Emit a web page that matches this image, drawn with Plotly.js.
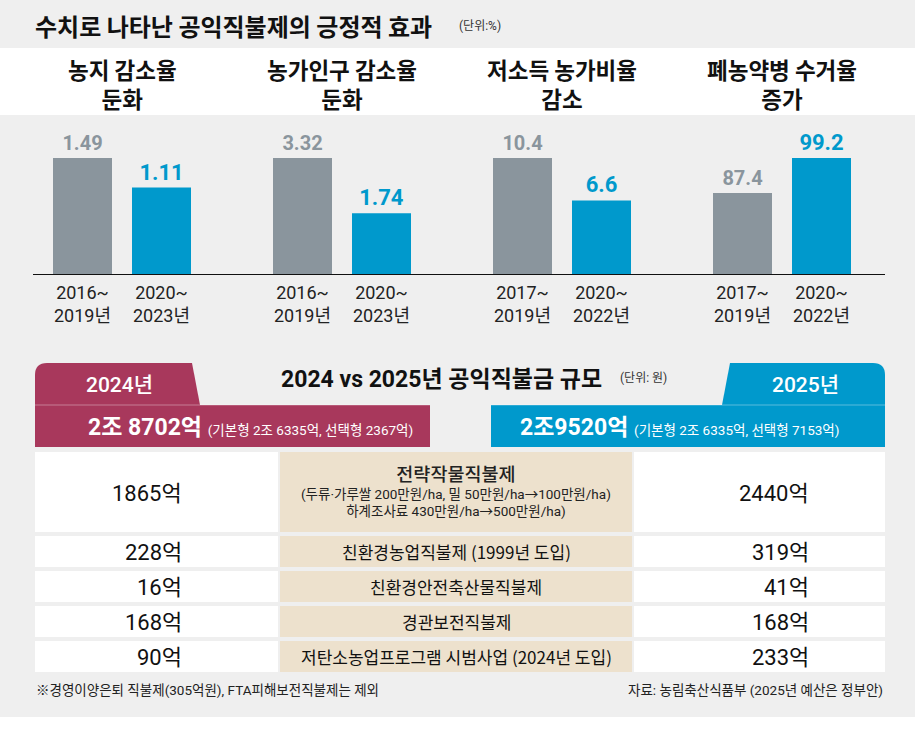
<!DOCTYPE html>
<html><head><meta charset="utf-8">
<script src="https://cdn.plot.ly/plotly-3.0.1.min.js"></script>
<style>html,body{margin:0;padding:0;background:#fff}#chart{width:915px;height:733px}</style>
</head><body><div id="chart"></div>
<script>
// ---------------- data ----------------
const chartTitle = '수치로 나타난 공익직불제의 긍정적 효과';
const chartUnit = '(단위:%)';
const groupTitles = ['농지 감소율<br>둔화', '농가인구 감소율<br>둔화', '저소득 농가비율<br>감소', '폐농약병 수거율<br>증가'];
const periodLabels = [
  ['2016~<br>2019년', '2020~<br>2023년'],
  ['2016~<br>2019년', '2020~<br>2023년'],
  ['2017~<br>2019년', '2020~<br>2022년'],
  ['2017~<br>2019년', '2020~<br>2022년']
];
const beforeValues = [1.49, 3.32, 10.4, 87.4];
const afterValues = [1.11, 1.74, 6.6, 99.2];

const tableTitle = '2024 vs 2025년 공익직불금 규모';
const tableUnit = '(단위: 원)';
const yearLabels = ['2024년', '2025년'];
const totalAmounts = ['2조 8702억', '2조9520억'];
const totalBreakdowns = ['(기본형 2조 6335억, 선택형 2367억)', '(기본형 2조 6335억, 선택형 7153억)'];
const programs = ['전략작물직불제', '친환경농업직불제 (1999년 도입)', '친환경안전축산물직불제', '경관보전직불제', '저탄소농업프로그램 시범사업 (2024년 도입)'];
const programNotes = [['(두류·가루쌀 200만원/ha, 밀 50만원/ha→100만원/ha)', '하계조사료 430만원/ha→500만원/ha)'], [], [], [], []];
const budget2024 = [1865, 228, 16, 168, 90];
const budget2025 = [2440, 319, 41, 168, 233];
const footNote = '※경영이양은퇴 직불제(305억원), FTA피해보전직불제는 제외';
const sourceNote = '자료: 농림축산식품부 (2025년 예산은 정부안)';

// ---------------- layout helpers ----------------
const W = 915, H = 733;
const fx = x => x / W, fy = y => 1 - y / H;
const GREY = '#8a959d', BLUE = '#0099cc', RED = '#a8385c', BEIGE = '#ede1cd', BG = '#efefef';
const NUM = 'Roboto, "Noto Sans CJK KR", sans-serif';
const KR = '"Noto Sans CJK KR", sans-serif';

const traces = [];
const shapes = [];
const annotations = [];
const layout = {
  width: W, height: H, margin: {l: 0, r: 0, t: 0, b: 0, pad: 0},
  paper_bgcolor: BG, plot_bgcolor: 'rgba(0,0,0,0)', showlegend: false,
  bargap: 20 / 79, font: {family: KR, color: '#111'},
  shapes: shapes, annotations: annotations
};
const note = (x, y, text, font, xanchor) => annotations.push({xref: 'paper', yref: 'paper', x: fx(x), y: fy(y),
  xanchor: xanchor || 'center', yanchor: 'middle', showarrow: false, text: text, font: font});

// background bands
shapes.push({type: 'rect', xref: 'paper', yref: 'paper', x0: 0, x1: 1, y0: fy(115), y1: fy(48), fillcolor: '#ffffff', line: {width: 0}, layer: 'below'});
shapes.push({type: 'rect', xref: 'paper', yref: 'paper', x0: 0, x1: 1, y0: 0, y1: fy(717), fillcolor: '#ffffff', line: {width: 0}, layer: 'below'});

note(33, 25, chartTitle, {family: KR, size: 24, weight: 700, color: '#111'}, 'left');
note(457, 26, chartUnit, {family: NUM, size: 12, color: '#333'}, 'left');

// ---------------- bar panels ----------------
const axisFloor = [0, 0, 0, 60]; // last panel uses a truncated axis, as in the original
const baseY = 274, topY = 158, domTop = 128;
beforeValues.forEach((b, i) => {
  const a = afterValues[i];
  const vmax = Math.max(a, b);
  const floor = axisFloor[i];
  const ymax = floor + (vmax - floor) * (baseY - domTop) / (baseY - topY);
  const c1 = 82.5 + 220 * i;
  const sfx = i === 0 ? '' : String(i + 1);
  traces.push({
    type: 'bar', x: periodLabels[i], y: [b, a], xaxis: 'x' + sfx, yaxis: 'y' + sfx,
    marker: {color: [GREY, BLUE], line: {width: 0}},
    text: [String(b), String(a)], textposition: 'outside', cliponaxis: false, constraintext: 'none',
    textfont: {family: NUM, size: [20, 22], color: [GREY, BLUE], weight: 700},
    hoverinfo: 'skip'
  });
  layout['xaxis' + sfx] = {
    domain: [fx(c1 - 39.5), fx(c1 + 118.5)], type: 'category', showgrid: false, zeroline: false, showline: false,
    ticks: '', ticklabelstandoff: 6, tickfont: {family: NUM, size: 18, color: '#222'}, anchor: 'y' + sfx, fixedrange: true
  };
  layout['yaxis' + sfx] = {domain: [fy(baseY), fy(domTop)], range: [floor, ymax], visible: false, anchor: 'x' + sfx, fixedrange: true};
  note(c1 + 39.5, 83, groupTitles[i], {family: KR, size: 22.5, weight: 700, color: '#111'});
});
shapes.push({type: 'line', xref: 'paper', yref: 'paper', x0: fx(33), x1: fx(885), y0: fy(274.5), y1: fy(274.5), line: {color: '#111', width: 1}});

// ---------------- table header ----------------
const P = (pts) => pts.map((p, k) => (p[0] === 'Q' ? 'Q' + fx(p[1]) + ',' + fy(p[2]) + ' ' + fx(p[3]) + ',' + fy(p[4]) : (k === 0 ? 'M' : 'L') + fx(p[0]) + ',' + fy(p[1]))).join(' ') + ' Z';
shapes.push({type: 'path', xref: 'paper', yref: 'paper', fillcolor: RED, line: {width: 0},
  path: P([[35, 405], [35, 375], ['Q', 35, 363, 47, 363], [192, 363], [200, 405]])});
shapes.push({type: 'rect', xref: 'paper', yref: 'paper', x0: fx(35), x1: fx(430), y0: fy(447), y1: fy(405), fillcolor: RED, line: {width: 0}});
shapes.push({type: 'path', xref: 'paper', yref: 'paper', fillcolor: BLUE, line: {width: 0},
  path: P([[722, 405], [730, 363], [873, 363], ['Q', 885, 363, 885, 375], [885, 405]])});
shapes.push({type: 'rect', xref: 'paper', yref: 'paper', x0: fx(491), x1: fx(885), y0: fy(447), y1: fy(405), fillcolor: BLUE, line: {width: 0}});
shapes.push({type: 'line', xref: 'paper', yref: 'paper', x0: fx(35), x1: fx(430), y0: fy(405), y1: fy(405), line: {color: 'rgba(255,255,255,0.35)', width: 1}});
shapes.push({type: 'line', xref: 'paper', yref: 'paper', x0: fx(491), x1: fx(885), y0: fy(405), y1: fy(405), line: {color: 'rgba(255,255,255,0.35)', width: 1}});

note(119, 385, yearLabels[0], {family: NUM, size: 21, weight: 500, color: '#fff'});
note(805, 385, yearLabels[1], {family: NUM, size: 21, weight: 500, color: '#fff'});
note(86, 427, '<b>' + totalAmounts[0] + '</b> <span style="font-size:13.5px">' + totalBreakdowns[0] + '</span>', {family: NUM, size: 23, color: '#fff'}, 'left');
note(518, 427, '<b>' + totalAmounts[1] + '</b> <span style="font-size:13.5px">' + totalBreakdowns[1] + '</span>', {family: NUM, size: 23, color: '#fff'}, 'left');
note(279, 379, tableTitle, {family: NUM, size: 23, weight: 700, color: '#111'}, 'left');
note(618, 378, tableUnit, {family: NUM, size: 12, color: '#333'}, 'left');

// ---------------- table rows ----------------
const rowHeights = [80, 31, 31, 31, 31];
let rowTop = 452;
programs.forEach((name, r) => {
  const h = rowHeights[r];
  const y0 = rowTop, y1 = rowTop + h, yc = (y0 + y1) / 2;
  shapes.push({type: 'rect', xref: 'paper', yref: 'paper', x0: fx(35), x1: fx(278), y0: fy(y1), y1: fy(y0), fillcolor: '#fff', line: {width: 0}, layer: 'below'});
  shapes.push({type: 'rect', xref: 'paper', yref: 'paper', x0: fx(280), x1: fx(632), y0: fy(y1), y1: fy(y0), fillcolor: BEIGE, line: {width: 0}, layer: 'below'});
  shapes.push({type: 'rect', xref: 'paper', yref: 'paper', x0: fx(634), x1: fx(885), y0: fy(y1), y1: fy(y0), fillcolor: '#fff', line: {width: 0}, layer: 'below'});
  note(184, yc + 1, budget2024[r] + '억', {family: NUM, size: 22, color: '#111'}, 'right');
  note(811, yc + 1, budget2025[r] + '억', {family: NUM, size: 22, color: '#111'}, 'right');
  const notes = programNotes[r];
  if (notes.length) {
    const txt = '<span style="font-size:18.5px;font-weight:500">' + name + '</span><br>' + notes.join('<br>');
    note(456, yc - 1, txt, {family: NUM, size: 13.5, color: '#222'});
  } else {
    note(456, yc, name, {family: KR, size: 17, color: '#111'});
  }
  rowTop = y1 + 4;
});

note(34, 690, footNote, {family: NUM, size: 13.5, color: '#222'}, 'left');
note(885, 690, sourceNote, {family: NUM, size: 13.5, color: '#222'}, 'right');

Plotly.newPlot('chart', traces, layout, {staticPlot: true, displayModeBar: false});
</script></body></html>
